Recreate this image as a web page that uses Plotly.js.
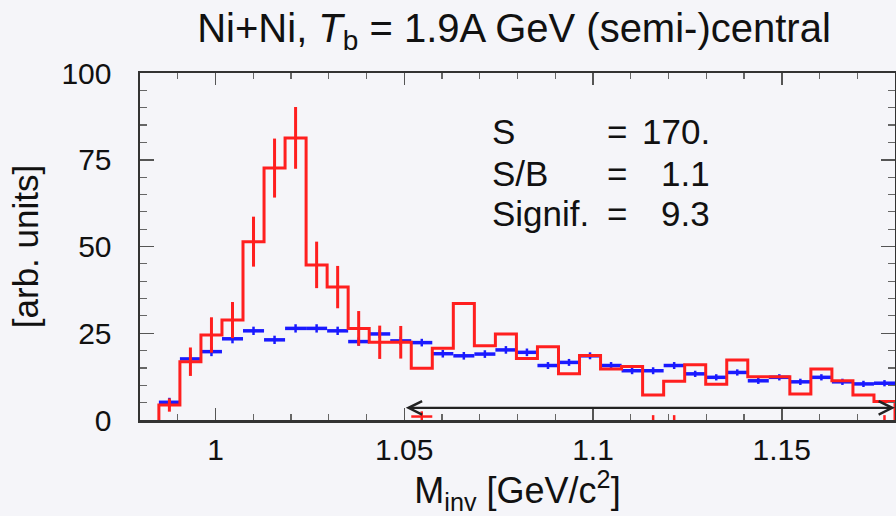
<!DOCTYPE html>
<html>
<head>
<meta charset="utf-8">
<script src="https://cdn.plot.ly/plotly-3.0.1.min.js"></script>
<style>html,body{margin:0;padding:0;background:#f5f5f9;}</style>
</head>
<body>
<div id="chart" style="width:896px;height:516px;"></div>
<script>
// Histogram binning (GeV/c^2)
const binLow = 0.985;
const binHigh = 1.18;
const nBins = 35;

// Same-event (signal + background) histogram, red
const redValues = [4.3, 16.8, 24.5, 28.8, 51.4, 72.6, 81.3, 44.7, 38.3, 26.4,
                   22.4, 22.4, 14.9, 20.7, 33.6, 21.4, 24.8, 17.7, 21.1, 13.3,
                   18.6, 14.7, 15.4, 7.2, 11.2, 15.9, 10.3, 17.3, 12.5, 12.5,
                   7.5, 14.7, 11.3, 7.2, 5.3];
// Statistical errors shown on the first bins of the red histogram
const redErrors = [1.9, 4.1, 5.1, 5.2, 7.2, 8.5, 8.9, 6.7, 6.1, 5.0, 4.8, 4.7];

// Mixed-event background, blue
const blueValues = [5.1, 17.6, 19.7, 23.4, 25.7, 23.1, 26.4, 26.4, 25.7, 22.6,
                    24.8, 22.8, 22.3, 19.1, 18.5, 19.0, 20.2, 19.5, 15.7, 16.6,
                    18.5, 15.7, 14.2, 14.2, 15.7, 13.3, 12.3, 13.7, 11.3, 12.3,
                    11.0, 12.3, 11.0, 10.4, 10.6];
const blueErrors = [1.3, 1.3, 1.3, 1.3, 1.2, 1.2, 1.2, 1.2, 1.2, 1.2,
                    1.2, 1.2, 1.1, 1.1, 1.1, 1.1, 1.1, 1.1, 1.0, 1.0,
                    1.0, 1.0, 1.0, 1.0, 1.0, 0.9, 0.9, 0.9, 0.9, 0.9,
                    0.9, 0.9, 0.9, 0.9, 0.9];

// Residual points (background-subtracted) visible near zero
const residBins = [13, 24, 25, 35];
const residValues = [1.0, -3.0, -2.6, -3.2];
const residErrors = [1.5, 4.4, 4.0, 4.6];

// Texts
const titleText = 'Ni+Ni, <i>T</i><sub>b</sub> = 1.9A GeV (semi-)central';
const xTitle = 'M<sub>inv</sub> [GeV/c<sup>2</sup>]';
const yTitle = '[arb. units]';
const xTickVals = [1, 1.05, 1.1, 1.15];
const xTickText = ['1', '1.05', '1.1', '1.15'];
const yTickVals = [0, 25, 50, 75, 100];
const statLabels = ['S', 'S/B', 'Signif.'];
const statValues = ['170.', '1.1', '9.3'];
const arrowRange = [1.05, 1.18];
const arrowLevel = 3.5;

// Derived binning
const w = (binHigh - binLow) / nBins;
const edges = Array.from({length: nBins + 1}, (_, i) => binLow + i * w);
const centers = Array.from({length: nBins}, (_, i) => binLow + (i + 0.5) * w);

const RED = '#ff1f1f';
const BLUE = '#1a1aff';
const FONT = 'Liberation Sans, Arial, sans-serif';

// Step line for red histogram (closed to zero at both ends)
const stepX = [edges[0]].concat(edges.slice(0, nBins), [edges[nBins], edges[nBins]]);
const stepY = [0].concat(redValues, [redValues[nBins - 1], 0]);

const traces = [
  {
    x: centers, y: blueValues, type: 'scatter', mode: 'markers',
    marker: {size: 0.1, color: BLUE},
    error_x: {type: 'constant', value: w / 2, color: BLUE, thickness: 3.5, width: 0},
    error_y: {type: 'data', array: blueErrors, color: BLUE, thickness: 2.5, width: 0},
    hoverinfo: 'x+y', showlegend: false
  },
  {
    x: stepX, y: stepY, type: 'scatter', mode: 'lines',
    line: {shape: 'hv', color: RED, width: 3},
    hoverinfo: 'skip', showlegend: false
  },
  {
    x: centers.slice(0, redErrors.length), y: redValues.slice(0, redErrors.length),
    type: 'scatter', mode: 'markers',
    marker: {size: 0.1, color: RED},
    error_y: {type: 'data', array: redErrors, color: RED, thickness: 3, width: 0},
    hoverinfo: 'x+y', showlegend: false
  },
  {
    x: residBins.map(b => centers[b - 1]), y: residValues,
    type: 'scatter', mode: 'markers',
    marker: {size: 0.1, color: RED},
    error_x: {type: 'constant', value: w / 2, color: RED, thickness: 2.5, width: 0},
    error_y: {type: 'data', array: residErrors, color: RED, thickness: 2.5, width: 0},
    hoverinfo: 'x+y', showlegend: false
  }
];

const annotations = [
  {
    x: arrowRange[1], y: arrowLevel, ax: arrowRange[0], ay: arrowLevel,
    xref: 'x', yref: 'y', axref: 'x', ayref: 'y',
    showarrow: true, arrowside: 'end+start', arrowhead: 5, startarrowhead: 5,
    arrowsize: 1.2, startarrowsize: 1.2, arrowwidth: 2.2, arrowcolor: '#222', text: ''
  }
];
const rowY = [131, 173, 213];
const statFont = {family: FONT, size: 35, color: '#111'};
statLabels.forEach((lab, i) => {
  const yy = (420 - rowY[i]) / 347;
  annotations.push({text: lab, xref: 'paper', yref: 'paper', x: (490 - 140) / 755, y: yy,
    xanchor: 'left', yanchor: 'middle', showarrow: false, font: statFont});
  annotations.push({text: '=', xref: 'paper', yref: 'paper', x: (617 - 140) / 755, y: yy,
    xanchor: 'center', yanchor: 'middle', showarrow: false, font: statFont});
  annotations.push({text: statValues[i], xref: 'paper', yref: 'paper', x: (712 - 140) / 755, y: yy,
    xanchor: 'right', yanchor: 'middle', showarrow: false, font: statFont});
});

const layout = {
  width: 896, height: 516,
  paper_bgcolor: '#f5f5f9', plot_bgcolor: 'rgba(0,0,0,0)',
  margin: {l: 140, r: 1, t: 73, b: 96, pad: 0},
  font: {family: FONT, color: '#111'},
  title: {
    text: titleText, font: {family: FONT, size: 40, color: '#111'},
    x: 514 / 896, xref: 'container', xanchor: 'center',
    y: 1 - 28 / 516, yref: 'container', yanchor: 'middle'
  },
  xaxis: {
    range: [0.98, 1.18], showgrid: false, zeroline: false,
    showline: true, linecolor: '#333', linewidth: 2.5, mirror: 'ticks',
    ticks: 'inside', ticklen: 12, tickwidth: 1.5, tickcolor: '#555',
    tickvals: xTickVals, ticktext: xTickText,
    tickfont: {family: FONT, size: 30, color: '#111'}, ticklabelstandoff: 1,
    minor: {dtick: 0.01, tick0: 1, ticks: 'inside', ticklen: 6, tickwidth: 1.2, tickcolor: '#666'},
    title: {text: xTitle, font: {family: FONT, size: 36, color: '#111'}, standoff: 12}
  },
  yaxis: {
    range: [0, 100], showgrid: false, zeroline: false,
    showline: true, linecolor: '#333', linewidth: 2.5, mirror: 'ticks',
    ticks: 'inside', ticklen: 14, tickwidth: 1.5, tickcolor: '#555',
    tickvals: yTickVals,
    tickfont: {family: FONT, size: 30, color: '#111'}, ticklabelstandoff: 20,
    minor: {dtick: 5, ticks: 'inside', ticklen: 7, tickwidth: 1.2, tickcolor: '#666'},
    title: {text: yTitle, font: {family: FONT, size: 35, color: '#111'}, standoff: 12}
  },
  annotations: annotations,
  showlegend: false
};

Plotly.newPlot('chart', traces, layout, {displayModeBar: false, staticPlot: true});
</script>
</body>
</html>
